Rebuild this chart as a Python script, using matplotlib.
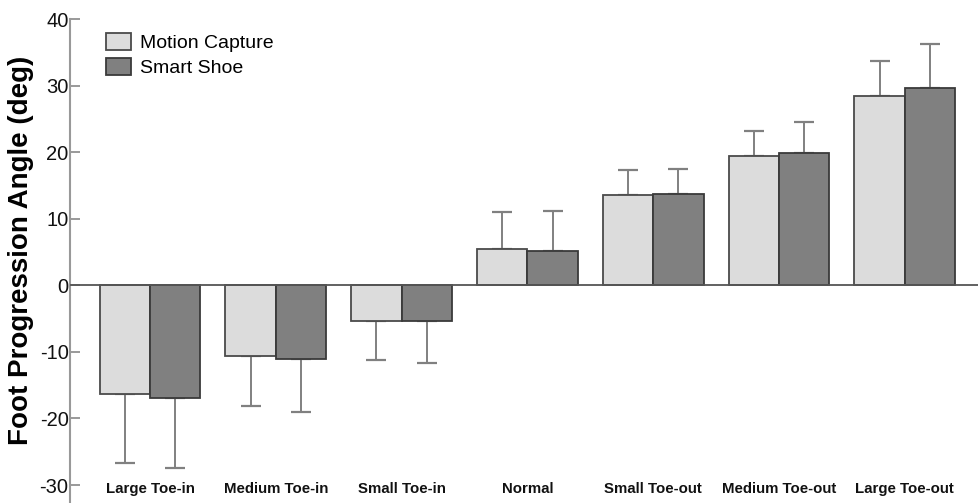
import matplotlib
matplotlib.use("Agg")
import matplotlib.pyplot as plt
import numpy as np

categories = ["Large Toe-in", "Medium Toe-in", "Small Toe-in", "Normal",
              "Small Toe-out", "Medium Toe-out", "Large Toe-out"]
mocap_mean = [-16.3, -10.6, -5.4, 5.5, 13.5, 19.35, 28.4]
mocap_sd = [10.4, 7.5, 5.8, 5.5, 3.8, 3.85, 5.3]
shoe_mean = [-17.0, -11.0, -5.3, 5.2, 13.7, 19.8, 29.7]
shoe_sd = [10.4, 8.0, 6.4, 5.9, 3.8, 4.8, 6.5]
yticks = [-30, -20, -10, 0, 10, 20, 30, 40]

plt.rcParams['font.family'] = ['Liberation Sans', 'DejaVu Sans']

fig = plt.figure(figsize=(9.79, 5.03), dpi=100)
ax = fig.add_axes([0.0715, 0.0, 0.9285, 0.9622])

x = np.arange(len(categories))
w = 0.4
mc = np.array(mocap_mean); ss = np.array(shoe_mean)
mcs = np.array(mocap_sd); sss = np.array(shoe_sd)

def one_sided(m, s):
    lower = np.where(m < 0, s, 0)
    upper = np.where(m >= 0, s, 0)
    return [lower, upper]

ax.bar(x - w/2, mc, w, color='#dcdcdc', edgecolor='#4a4a4a', linewidth=1.3,
       label='Motion Capture', zorder=3)
ax.bar(x + w/2, ss, w, color='#808080', edgecolor='#3a3a3a', linewidth=1.3,
       label='Smart Shoe', zorder=3)
ax.errorbar(x - w/2, mc, yerr=one_sided(mc, mcs), fmt='none', ecolor='#808080',
            elinewidth=1.4, capsize=7.5, capthick=1.6, zorder=2)
ax.errorbar(x + w/2, ss, yerr=one_sided(ss, sss), fmt='none', ecolor='#808080',
            elinewidth=1.4, capsize=7.5, capthick=1.6, zorder=2)

ax.axhline(0, color='#555555', linewidth=1.3, zorder=4)

ax.set_xlim(-0.636, 6.59)
ax.set_ylim(-32.7, 40)
ax.set_yticks(yticks)
ax.set_yticklabels([str(t) for t in yticks], fontsize=14.5, color='#111111')
ax.tick_params(axis='y', direction='in', length=7.5, width=1.2, color='#888888', pad=1)
ax.set_xticks([])
for s in ['top', 'right', 'bottom']:
    ax.spines[s].set_visible(False)
ax.spines['left'].set_color('#999999')
ax.spines['left'].set_linewidth(1.5)

for xi, c in zip(x, categories):
    ax.text(xi, -30.6, c, ha='center', va='center', fontsize=10.8,
            fontweight='bold', color='#111111')

ax.set_ylabel('Foot Progression Angle (deg)', fontsize=20, fontweight='bold')
ax.yaxis.set_label_coords(-0.0396, 0.523)

leg = ax.legend(loc='upper left', bbox_to_anchor=(0.025, 1.0), frameon=False,
                fontsize=14, handlelength=1.25, handleheight=1.0,
                handletextpad=0.5, labelspacing=0.3, borderaxespad=0.3)

fig.savefig('out.png', dpi=100)
